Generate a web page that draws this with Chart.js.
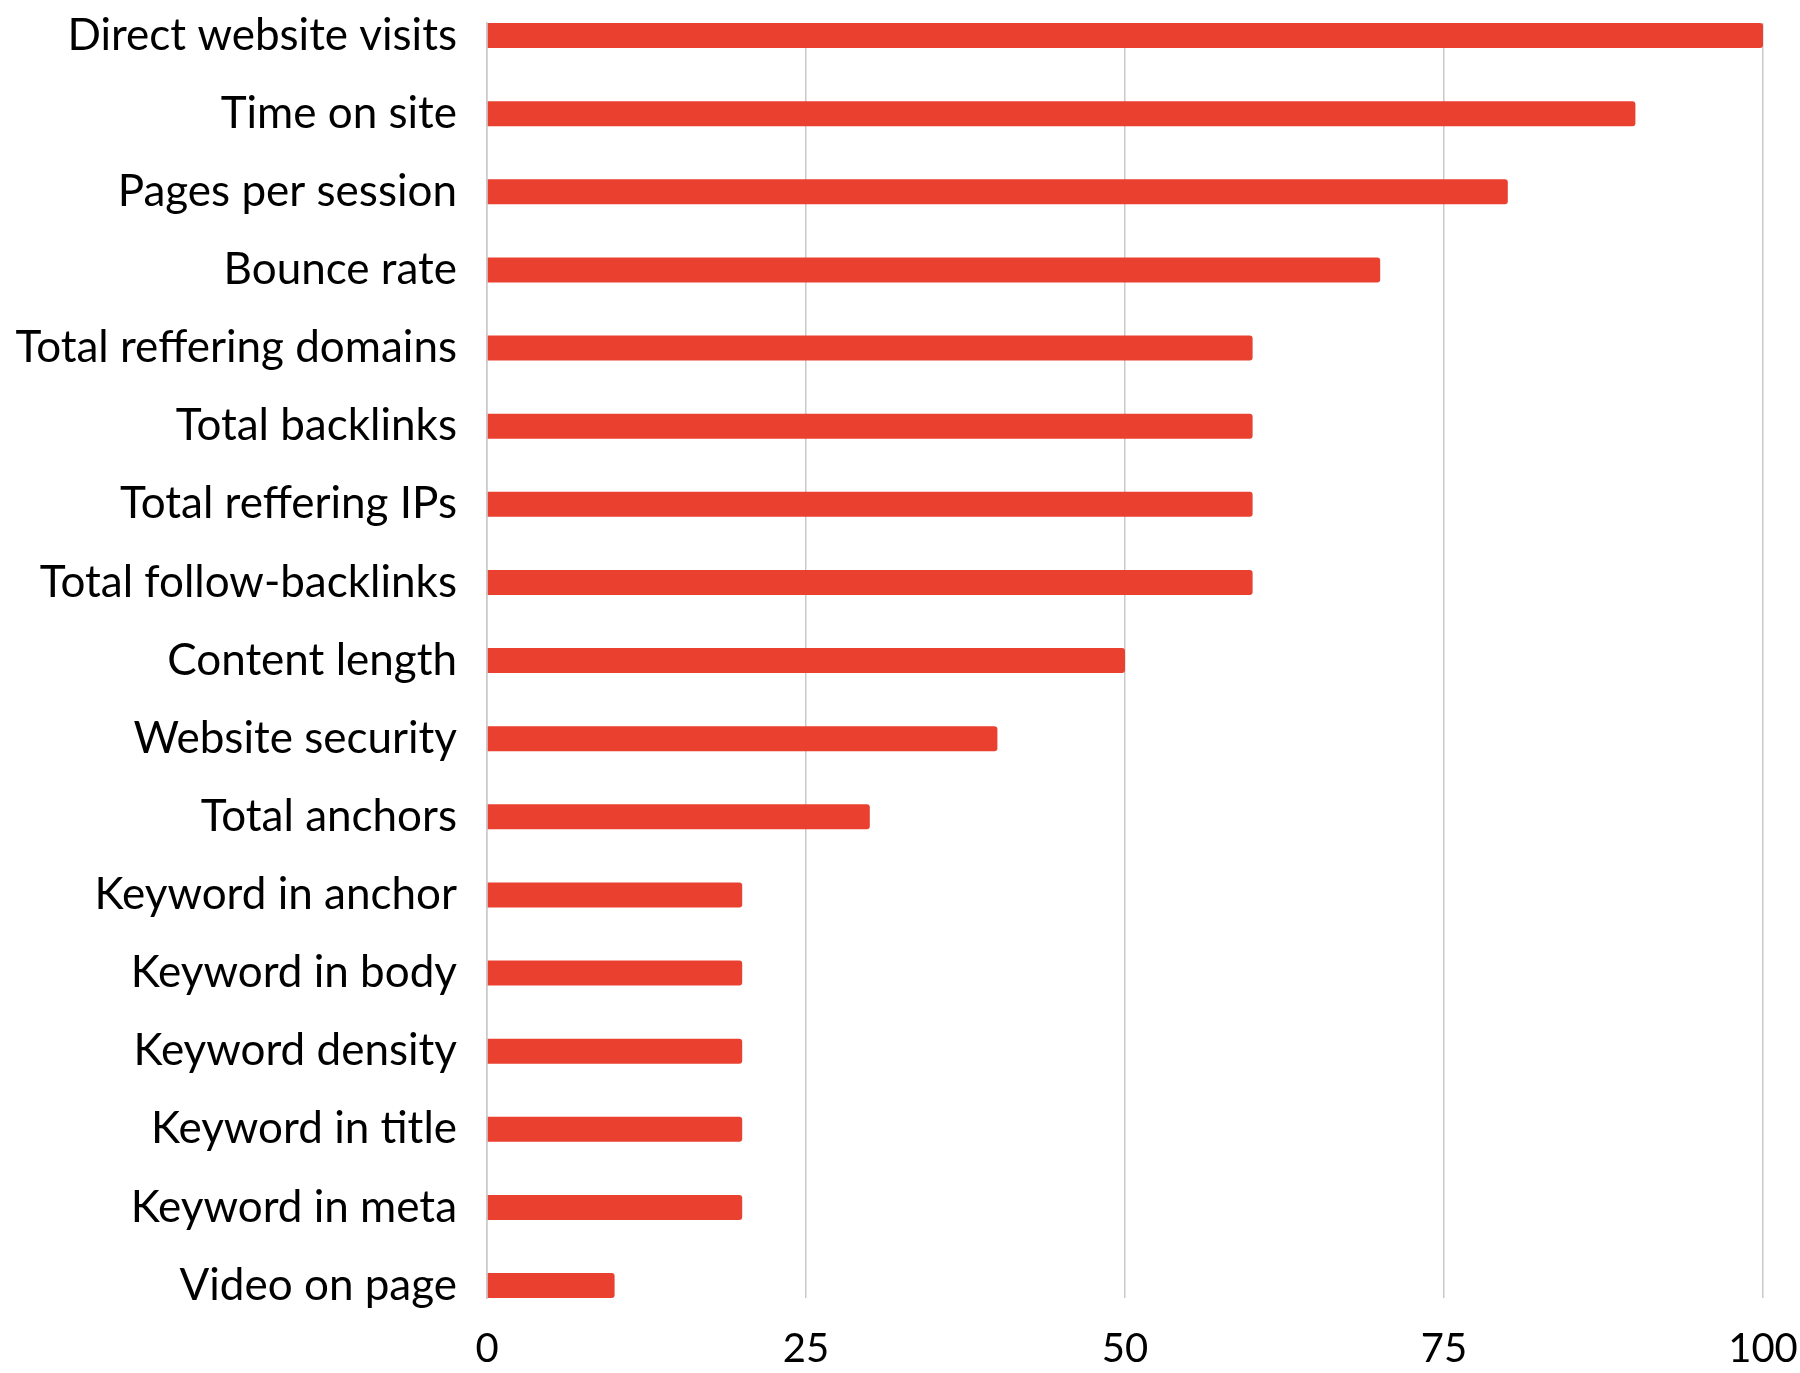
<!DOCTYPE html>
<html>
<head>
<meta charset="utf-8">
<script src="https://cdn.jsdelivr.net/npm/chart.js@4.4.1/dist/chart.umd.min.js"></script>
<style>
  html, body { margin: 0; padding: 0; background: #fff; }
  #wrap { position: relative; width: 1800px; height: 1373px; }
</style>
</head>
<body>
<div id="wrap"><canvas id="main-chart"></canvas></div>
<script>
// ── data ──
const factors = [
  'Direct website visits', 'Time on site', 'Pages per session', 'Bounce rate',
  'Total reffering domains', 'Total backlinks', 'Total reffering IPs', 'Total follow-backlinks',
  'Content length', 'Website security', 'Total anchors', 'Keyword in anchor',
  'Keyword in body', 'Keyword density', 'Keyword in title', 'Keyword in meta', 'Video on page'
];
const scores = [100, 90, 80, 70, 60, 60, 60, 60, 50, 40, 30, 20, 20, 20, 20, 20, 10];
const xTicks = [0, 25, 50, 75, 100];

const tc = '#000000';
const gc = '#c9c9c9';
const family = 'Lato, "Source Sans Pro", sans-serif';

// drop the label-overflow padding so layout padding alone places the plot area
const noEdgePad = s => { s.paddingTop = 0; s.paddingBottom = 0; s.paddingLeft = 0; s.paddingRight = 0; };

const chart = new Chart(document.getElementById('main-chart').getContext('2d'), {
  type: 'bar',
  data: {
    datasets: [{
      data: scores.map((v, i) => ({ x: v, y: i })),
      backgroundColor: '#EA4030',
      borderWidth: 0,
      borderRadius: 3,
      borderSkipped: 'start',
      barPercentage: 0.32,
      categoryPercentage: 1,
    }]
  },
  options: {
    indexAxis: 'y',
    responsive: true, maintainAspectRatio: false,
    animation: false,
    layout: { padding: { top: 23, right: 37, left: 0, bottom: 0 } },
    scales: {
      x: {
        type: 'linear', min: 0, max: 100,
        afterBuildTicks: s => { s.ticks = xTicks.map(v => ({ value: v })); },
        afterFit: s => { s.height = 75; noEdgePad(s); },
        ticks: { color: tc, font: { family, size: 40 }, padding: 27, maxRotation: 0 },
        grid: { color: gc, lineWidth: 1.5, drawTicks: false },
        border: { display: false },
      },
      y: {
        type: 'linear', reverse: true, offset: false,
        min: -0.16, max: factors.length - 1 + 0.16,
        afterBuildTicks: s => { s.ticks = factors.map((_, i) => ({ value: i })); },
        afterFit: s => { s.width = 487; noEdgePad(s); },
        ticks: { color: tc, font: { family, size: 44 }, padding: 30, autoSkip: false,
          callback: v => factors[v] ?? '' },
        grid: { display: false, drawTicks: false, offset: false },
        border: { display: true, color: gc, width: 1.5 },
      },
    },
    plugins: {
      legend: { display: false },
      tooltip: { enabled: false },
    },
  }
});
</script>
</body>
</html>
